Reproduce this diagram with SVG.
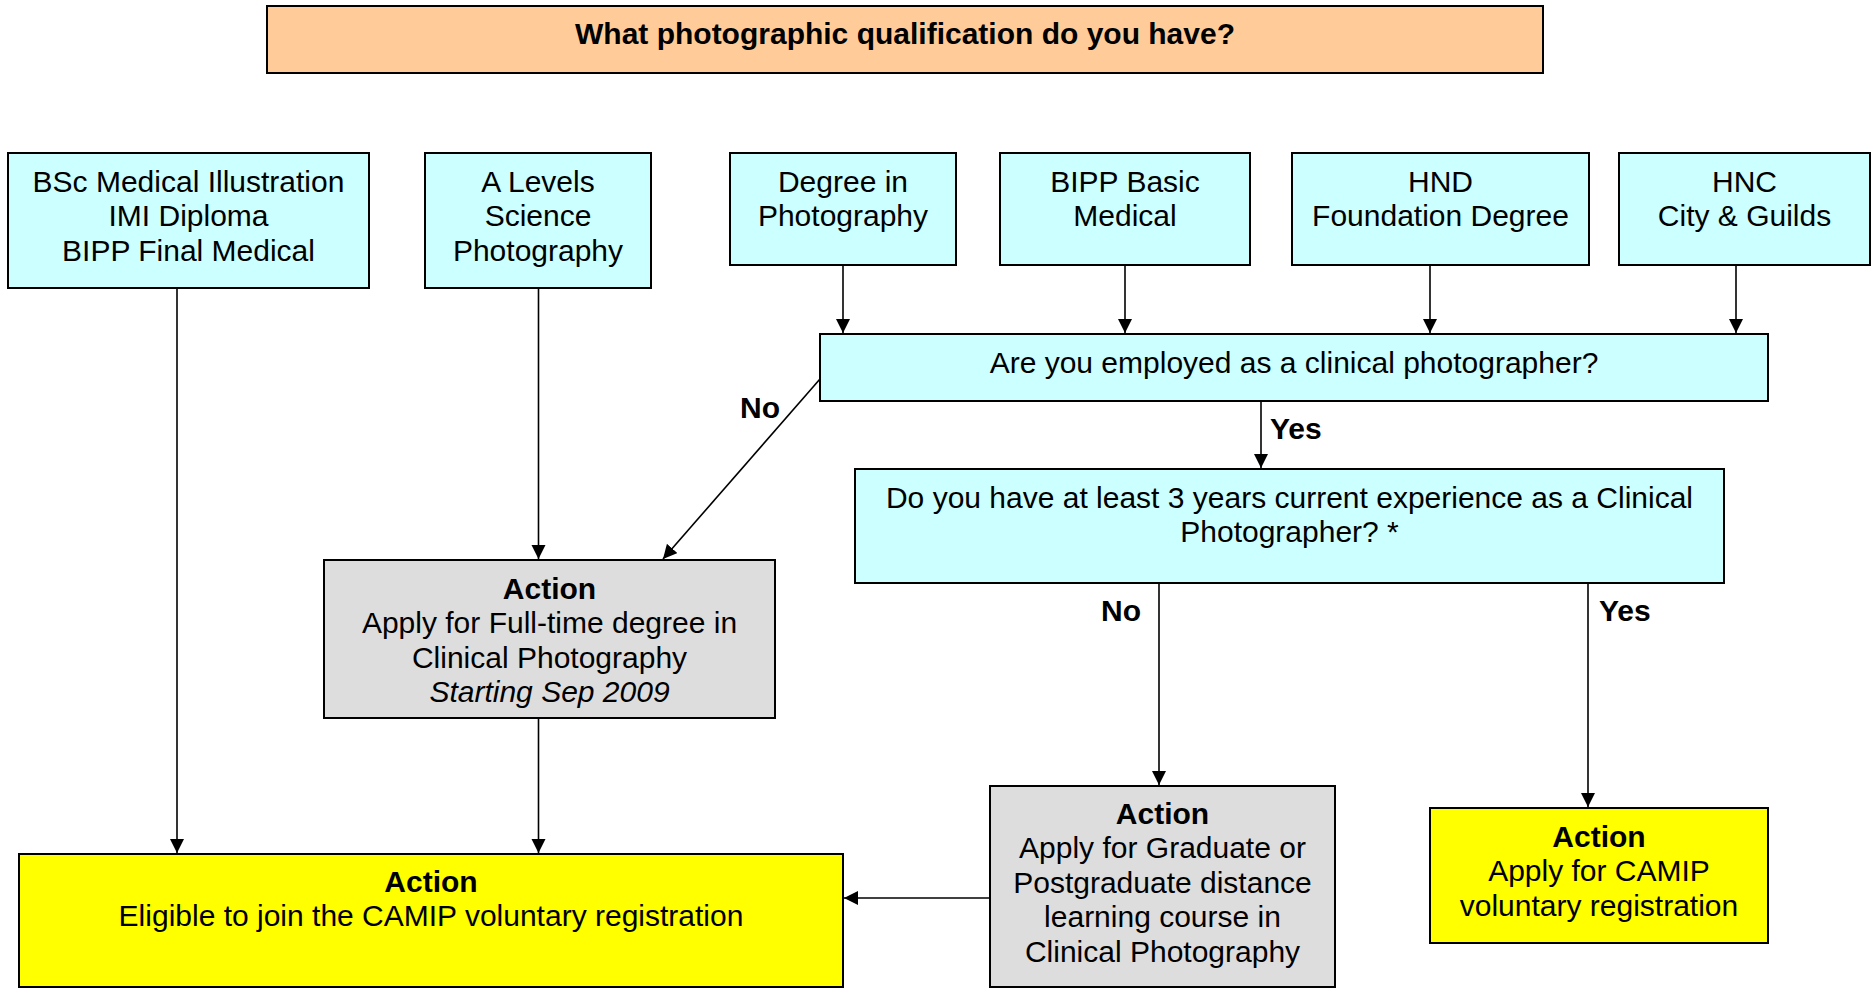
<svg xmlns="http://www.w3.org/2000/svg" width="1872" height="988" viewBox="0 0 1872 988">
<style>
  .box { stroke: #000; stroke-width: 2; }
  .q { fill: #CCFFFF; }
  .title { fill: #FFCC99; }
  .grey { fill: #DDDDDD; }
  .yel { fill: #FFFF00; }
  text { font-family: "Liberation Sans", Arial, sans-serif; font-size: 30px; fill: #000; }
  .c { text-anchor: middle; }
  .b { font-weight: bold; }
  .i { font-style: italic; }
  .conn line { stroke: #000; stroke-width: 1.6; fill: none; marker-end: url(#arrow); }
</style>
<defs>
  <marker id="arrow" markerUnits="userSpaceOnUse" markerWidth="15" markerHeight="15" refX="14" refY="7" orient="auto" viewBox="0 0 15 15">
    <path d="M0,0 L14,7 L0,14 z" fill="#000"/>
  </marker>
</defs>
<rect width="1872" height="988" fill="#FFFFFF"/>

<g id="title">
  <rect class="box title" x="267" y="6" width="1276" height="67"/>
  <text class="c b" x="905" y="43.5">What photographic qualification do you have?</text>
</g>

<g id="bsc">
  <rect class="box q" x="8" y="153" width="361" height="135"/>
  <text class="c" x="188.5" y="191.5">BSc Medical Illustration</text>
  <text class="c" x="188.5" y="226">IMI Diploma</text>
  <text class="c" x="188.5" y="260.5">BIPP Final Medical</text>
</g>

<g id="alevels">
  <rect class="box q" x="425" y="153" width="226" height="135"/>
  <text class="c" x="538" y="191.5">A Levels</text>
  <text class="c" x="538" y="226">Science</text>
  <text class="c" x="538" y="260.5">Photography</text>
</g>

<g id="degree">
  <rect class="box q" x="730" y="153" width="226" height="112"/>
  <text class="c" x="843" y="191.5">Degree in</text>
  <text class="c" x="843" y="226">Photography</text>
</g>

<g id="bipp">
  <rect class="box q" x="1000" y="153" width="250" height="112"/>
  <text class="c" x="1125" y="191.5">BIPP Basic</text>
  <text class="c" x="1125" y="226">Medical</text>
</g>

<g id="hnd">
  <rect class="box q" x="1292" y="153" width="297" height="112"/>
  <text class="c" x="1440.5" y="191.5">HND</text>
  <text class="c" x="1440.5" y="226">Foundation Degree</text>
</g>

<g id="hnc">
  <rect class="box q" x="1619" y="153" width="251" height="112"/>
  <text class="c" x="1744.5" y="191.5">HNC</text>
  <text class="c" x="1744.5" y="226">City &amp; Guilds</text>
</g>

<g id="employed">
  <rect class="box q" x="820" y="334" width="948" height="67"/>
  <text class="c" x="1294" y="372.5">Are you employed as a clinical photographer?</text>
</g>

<g id="experience">
  <rect class="box q" x="855" y="469" width="869" height="114"/>
  <text class="c" x="1289.5" y="507.5">Do you have at least 3 years current experience as a Clinical</text>
  <text class="c" x="1289.5" y="542">Photographer? *</text>
</g>

<g id="fulltime">
  <rect class="box grey" x="324" y="560" width="451" height="158"/>
  <text class="c b" x="549.5" y="598.5">Action</text>
  <text class="c" x="549.5" y="633">Apply for Full-time degree in</text>
  <text class="c" x="549.5" y="667.5">Clinical Photography</text>
  <text class="c i" x="549.5" y="702">Starting Sep 2009</text>
</g>

<g id="eligible">
  <rect class="box yel" x="19" y="854" width="824" height="133"/>
  <text class="c b" x="431" y="891.5">Action</text>
  <text class="c" x="431" y="926">Eligible to join the CAMIP voluntary registration</text>
</g>

<g id="distance">
  <rect class="box grey" x="990" y="786" width="345" height="201"/>
  <text class="c b" x="1162.5" y="823.5">Action</text>
  <text class="c" x="1162.5" y="858">Apply for Graduate or</text>
  <text class="c" x="1162.5" y="892.5">Postgraduate distance</text>
  <text class="c" x="1162.5" y="927">learning course in</text>
  <text class="c" x="1162.5" y="961.5">Clinical Photography</text>
</g>

<g id="camip">
  <rect class="box yel" x="1430" y="808" width="338" height="135"/>
  <text class="c b" x="1599" y="846.5">Action</text>
  <text class="c" x="1599" y="881">Apply for CAMIP</text>
  <text class="c" x="1599" y="915.5">voluntary registration</text>
</g>

<g id="connectors" class="conn">
  <line x1="177" y1="289" x2="177" y2="853"/>
  <line x1="538.5" y1="289" x2="538.5" y2="559"/>
  <line x1="538.5" y1="719" x2="538.5" y2="853"/>
  <line x1="843" y1="266" x2="843" y2="333"/>
  <line x1="1125" y1="266" x2="1125" y2="333"/>
  <line x1="1430" y1="266" x2="1430" y2="333"/>
  <line x1="1736" y1="266" x2="1736" y2="333"/>
  <line x1="820" y1="379" x2="663" y2="559"/>
  <line x1="1261" y1="402" x2="1261" y2="468"/>
  <line x1="1159" y1="584" x2="1159" y2="785"/>
  <line x1="1588" y1="584" x2="1588" y2="807"/>
  <line x1="989" y1="898" x2="844" y2="898"/>
</g>

<g id="labels">
  <text class="b" x="740" y="417.5">No</text>
  <text class="b" x="1270" y="438.5">Yes</text>
  <text class="b" x="1101" y="620.5">No</text>
  <text class="b" x="1599" y="620.5">Yes</text>
</g>
</svg>
